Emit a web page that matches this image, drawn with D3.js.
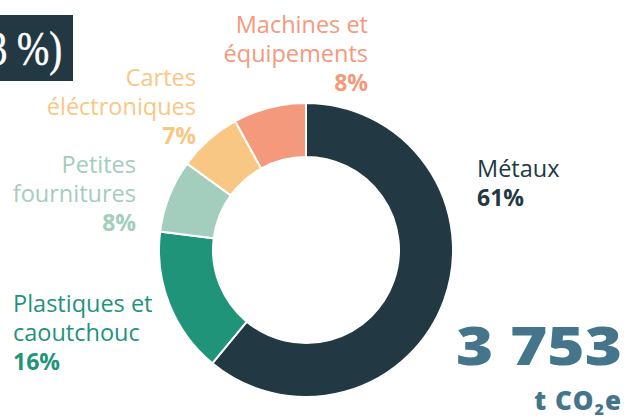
<!DOCTYPE html>
<html>
<head>
<meta charset="utf-8">
<script src="https://cdn.jsdelivr.net/npm/d3@7"></script>
<style>
  body { margin: 0; background: #fff; }
  svg { display: block; }
</style>
</head>
<body>
<div id="chart"></div>
<script>
const w = 627;
const h = 419;

// data
const categories = ["Métaux", "Plastiques et caoutchouc", "Petites fournitures", "Cartes éléctroniques", "Machines et équipements"];
const shares = [61, 16, 8, 7, 8];
const colors = ["#223843", "#1f9479", "#a3cdbd", "#f9c784", "#f4997c"];
const labelLines = [["Métaux"], ["Plastiques et", "caoutchouc"], ["Petites", "fournitures"], ["Cartes", "éléctroniques"], ["Machines et", "équipements"]];
const totalValue = "3 753";
const headerText = "3 %)";

const svg = d3.select("#chart")
  .append("svg")
  .attr("width", w)
  .attr("height", h);

// header box, cut at the left edge (as in the original)
svg.append("rect")
  .attr("x", 0).attr("y", 15)
  .attr("width", 73).attr("height", 66)
  .attr("fill", "#223843");
svg.append("text")
  .attr("x", -12).attr("y", 65)
  .attr("font-family", "Liberation Serif, DejaVu Serif, serif")
  .attr("font-size", 48)
  .attr("fill", "#fff")
  .attr("stroke", "#fff")
  .attr("stroke-width", 0.6)
  .attr("textLength", 74)
  .attr("lengthAdjust", "spacingAndGlyphs")
  .text(headerText);

// donut
const cx = 306, cy = 250;
const outerR = 147, innerR = 93;

const pie = d3.pie().sort(null).value(d => d);
const arc = d3.arc().innerRadius(innerR).outerRadius(outerR);
const color = d3.scaleOrdinal().domain(categories).range(colors);

const g = svg.append("g").attr("transform", `translate(${cx},${cy})`);
g.selectAll("path")
  .data(pie(shares))
  .enter()
  .append("path")
  .attr("d", arc)
  .attr("fill", (d, i) => color(categories[i]))
  .attr("stroke", "#fff")
  .attr("stroke-width", 2);

// labels: anchor x, first baseline, alignment
const labelPos = [
  {x: 477, y: 177, anchor: "start", textColor: "#223843"},
  {x: 13, y: 312, anchor: "start", textColor: "#1f9479"},
  {x: 136, y: 173, anchor: "end", textColor: "#a3cdbd"},
  {x: 196, y: 86, anchor: "end", textColor: "#f9c784"},
  {x: 368, y: 33, anchor: "end", textColor: "#f4997c"}
];

categories.forEach((c, i) => {
  const p = labelPos[i];
  const t = svg.append("text")
    .attr("x", p.x).attr("y", p.y)
    .attr("text-anchor", p.anchor)
    .attr("font-family", "Open Sans, sans-serif")
    .attr("font-size", 23.5);
  labelLines[i].forEach((line, j) => {
    t.append("tspan")
      .attr("x", p.x)
      .attr("dy", j === 0 ? 0 : 29)
      .attr("fill", p.textColor)
      .text(line);
  });
  t.append("tspan")
    .attr("x", p.x)
    .attr("dy", 29)
    .attr("font-weight", 700)
    .attr("font-size", 23)
    .attr("fill", color(c))
    .text(shares[i] + "%");
});

// total
svg.append("text")
  .attr("x", 456).attr("y", 365)
  .attr("font-family", "Open Sans, sans-serif")
  .attr("font-weight", 800)
  .attr("font-size", 53)
  .attr("fill", "#45758b")
  .attr("textLength", 166)
  .attr("lengthAdjust", "spacingAndGlyphs")
  .text(totalValue);

const unit = svg.append("text")
  .attr("x", 622).attr("y", 410)
  .attr("text-anchor", "end")
  .attr("font-family", "Open Sans, sans-serif")
  .attr("font-weight", 800)
  .attr("font-size", 26)
  .attr("letter-spacing", 1)
  .attr("fill", "#45758b");
unit.append("tspan").text("t CO");
unit.append("tspan").attr("font-size", 16).attr("dy", 5).text("2");
unit.append("tspan").attr("dy", -5).text("e");
</script>
</body>
</html>
